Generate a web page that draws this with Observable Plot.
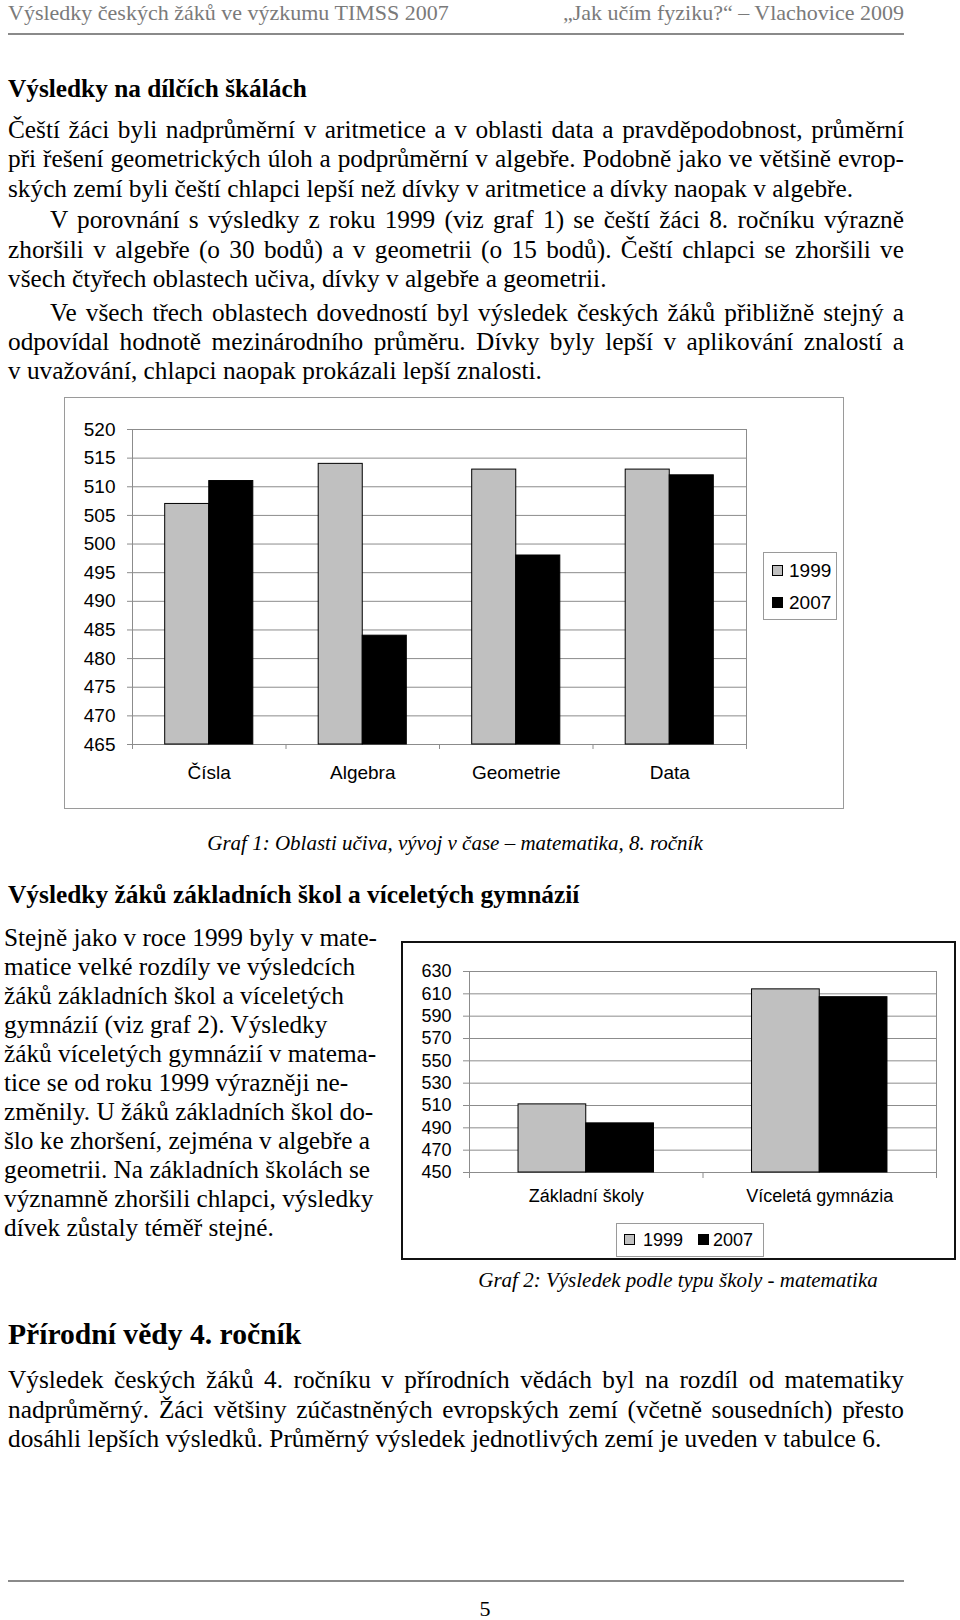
<!DOCTYPE html>
<html><head><meta charset="utf-8">
<script src="https://cdn.jsdelivr.net/npm/d3@7"></script>
<script src="https://cdn.jsdelivr.net/npm/@observablehq/plot@0.6"></script>
<style>
html,body{margin:0;padding:0;background:#fff;}
body{width:960px;height:1620px;position:relative;overflow:hidden;font-family:"Liberation Serif","Times New Roman",serif;color:#000;}
.t{position:absolute;white-space:nowrap;line-height:1;}
.box{position:absolute;box-sizing:border-box;}
.sans{font-family:"Liberation Sans",Arial,sans-serif;}
</style></head><body>
<script>
// ---------- DATA ----------
const categories1 = ["Čísla", "Algebra", "Geometrie", "Data"];
const values1999_1 = [507, 514, 513, 513];
const values2007_1 = [511, 484, 498, 512];
const yTicks1 = [465, 470, 475, 480, 485, 490, 495, 500, 505, 510, 515, 520];

const categories2 = ["Základní školy", "Víceletá gymnázia"];
const values1999_2 = [511, 614];
const values2007_2 = [494, 607];
const yTicks2 = [450, 470, 490, 510, 530, 550, 570, 590, 610, 630];

const years = ["1999", "2007"];

const headerLeft = "Výsledky českých žáků ve výzkumu TIMSS 2007";
const headerRight = "„Jak učím fyziku?“ – Vlachovice 2009";
const heading1 = "Výsledky na dílčích škálách";
const para1 = [
  "Čeští žáci byli nadprůměrní v aritmetice a v oblasti data a pravděpodobnost, průměrní",
  "při řešení geometrických úloh a podprůměrní v algebře. Podobně jako ve většině evrop-",
  "ských zemí byli čeští chlapci lepší než dívky v aritmetice a dívky naopak v algebře.",
  "V porovnání s výsledky z roku 1999 (viz graf 1) se čeští žáci 8. ročníku výrazně",
  "zhoršili v algebře (o 30 bodů) a v geometrii (o 15 bodů). Čeští chlapci se zhoršili ve",
  "všech čtyřech oblastech učiva, dívky v algebře a geometrii.",
  "Ve všech třech oblastech dovedností byl výsledek českých žáků přibližně stejný a",
  "odpovídal hodnotě mezinárodního průměru. Dívky byly lepší v aplikování znalostí a",
  "v uvažování, chlapci naopak prokázali lepší znalosti."
];
const caption1 = "Graf 1: Oblasti učiva, vývoj v čase – matematika, 8. ročník";
const heading2 = "Výsledky žáků základních škol a víceletých gymnázií";
const para2 = [
  "Stejně jako v roce 1999 byly v mate-",
  "matice velké rozdíly ve výsledcích",
  "žáků základních škol a víceletých",
  "gymnázií (viz graf 2). Výsledky",
  "žáků víceletých gymnázií v matema-",
  "tice se od roku 1999 výrazněji ne-",
  "změnily. U žáků základních škol do-",
  "šlo ke zhoršení, zejména v algebře a",
  "geometrii. Na základních školách se",
  "významně zhoršili chlapci, výsledky",
  "dívek zůstaly téměř stejné."
];
const caption2 = "Graf 2: Výsledek podle typu školy - matematika";
const heading3 = "Přírodní vědy 4. ročník";
const para3 = [
  "Výsledek českých žáků 4. ročníku v přírodních vědách byl na rozdíl od matematiky",
  "nadprůměrný. Žáci většiny zúčastněných evropských zemí (včetně sousedních) přesto",
  "dosáhli lepších výsledků. Průměrný výsledek jednotlivých zemí je uveden v tabulce 6."
];
const pageNumber = "5";

// ---------- LAYOUT HELPERS ----------
function text(str, x, yc, size, opts = {}) {
  const d = document.createElement("div");
  d.className = "t" + (opts.sans ? " sans" : "");
  d.textContent = str;
  d.style.fontSize = size + "px";
  d.style.top = (yc - size * 0.5) + "px";
  if (opts.bold) d.style.fontWeight = "bold";
  if (opts.italic) d.style.fontStyle = "italic";
  if (opts.color) d.style.color = opts.color;
  document.body.appendChild(d);
  const w = d.getBoundingClientRect().width;
  if (opts.justify) {
    const spaces = (str.match(/ /g) || []).length;
    if (spaces) d.style.wordSpacing = ((opts.justify - w) / spaces) + "px";
    d.style.left = x + "px";
  } else if (opts.anchor === "end") {
    d.style.left = (x - w) + "px";
  } else if (opts.anchor === "middle") {
    d.style.left = (x - w / 2) + "px";
  } else {
    d.style.left = x + "px";
  }
  return d;
}
function box(x, y, w, h, style) {
  const d = document.createElement("div");
  d.className = "box";
  Object.assign(d.style, {left: x + "px", top: y + "px", width: w + "px", height: h + "px"}, style);
  document.body.appendChild(d);
  return d;
}

// ---------- PAGE TEXT ----------
const BODY = 25.3;
const LEFT = 8, RIGHT = 904;
text(headerLeft, LEFT, 13, 22, {color: "#7a7a7a"});
text(headerRight, RIGHT, 13, 22, {color: "#7a7a7a", anchor: "end"});
box(LEFT, 33, RIGHT - LEFT, 2, {background: "#8a8a8a"});

text(heading1, LEFT, 89, 25.3, {bold: true});
const p1y = [130, 159, 189, 220, 250, 279, 313, 342, 371];
const p1indent = [0, 0, 0, 42, 0, 0, 42, 0, 0];
const p1just = [true, true, false, true, true, false, true, true, false];
para1.forEach((s, i) => {
  const x = LEFT + p1indent[i];
  text(s, x, p1y[i], BODY, p1just[i] ? {justify: RIGHT - x} : {});
});

// chart 1 frame
box(64, 397, 780, 412, {border: "1px solid #9a9a9a"});
text(caption1, 455, 843, 21, {italic: true, anchor: "middle"});

text(heading2, LEFT, 895, 25.4, {bold: true});
const p2y = [938, 967, 996, 1025, 1054, 1083, 1112, 1141, 1170, 1199, 1228];
para2.forEach((s, i) => text(s, 4, p2y[i], BODY));

text(caption2, 678, 1280, 21, {italic: true, anchor: "middle"});

text(heading3, LEFT, 1335, 29.6, {bold: true});
const p3y = [1380, 1410, 1439];
para3.forEach((s, i) => text(s, LEFT, p3y[i], BODY, i < 2 ? {justify: RIGHT - LEFT} : {}));

box(LEFT, 1580, RIGHT - LEFT, 2, {background: "#8a8a8a"});
text(pageNumber, 485, 1609, 22, {anchor: "middle"});

// ---------- CHARTS ----------
const GRID = "#8c8c8c";
const FILL1999 = "#c0c0c0", FILL2007 = "#000000";

function barChart({categories, v1999, v2007, ticks, barW, width, height, margins, fontSize, tickSize, labelPad}) {
  const d1999 = categories.map((c, i) => ({i, v: v1999[i]}));
  const d2007 = categories.map((c, i) => ({i, v: v2007[i]}));
  const base = ticks[0];
  const bounds = d3.range(categories.length + 1).map(i => i - 0.5);
  return Plot.plot({
    width, height,
    marginLeft: margins[0], marginRight: margins[1], marginTop: margins[2], marginBottom: margins[3],
    x: {domain: [-0.5, categories.length - 0.5]},
    y: {domain: [ticks[0], ticks[ticks.length - 1]]},
    style: {background: "transparent", fontFamily: "'Liberation Sans', Arial, sans-serif", fontSize: fontSize + "px", color: "#000", overflow: "visible"},
    marks: [
      Plot.ruleY(ticks, {stroke: GRID, strokeWidth: 1}),
      Plot.frame({stroke: GRID, strokeWidth: 1}),
      Plot.rectY(d1999, {x1: d => d.i - barW, x2: d => d.i, y1: base, y2: "v", fill: FILL1999, stroke: "#000", strokeWidth: 1}),
      Plot.rectY(d2007, {x1: d => d.i, x2: d => d.i + barW, y1: base, y2: "v", fill: FILL2007, stroke: "#000", strokeWidth: 1}),
      Plot.axisY({ticks, tickSize, tickPadding: 12, stroke: GRID, fontSize, label: null, tickFormat: d => String(d)}),
      Plot.axisX({ticks: bounds, tickSize, tickFormat: () => "", stroke: GRID, label: null}),
      Plot.axisX({ticks: categories.map((c, i) => i), tickSize: 0, tickPadding: labelPad, tickFormat: i => categories[i], fontSize, label: null})
    ]
  });
}

const c1 = barChart({
  categories: categories1, v1999: values1999_1, v2007: values2007_1, ticks: yTicks1,
  barW: 0.287, width: 780, height: 412, margins: [68, 98, 32, 65], fontSize: 19, tickSize: 5, labelPad: 21
});
const h1 = box(64, 397, 780, 412, {}); h1.appendChild(c1);

// chart 1 legend
box(763, 552, 74, 68, {border: "1px solid #9a9a9a", background: "#fff"});
box(772, 565, 11, 11, {background: FILL1999, border: "1px solid #000"});
text(years[0], 789, 570, 19, {sans: true});
box(772, 597, 11, 11, {background: FILL2007, border: "1px solid #000"});
text(years[1], 789, 602, 19, {sans: true});

// chart 2
const c2 = barChart({
  categories: categories2, v1999: values1999_2, v2007: values2007_2, ticks: yTicks2,
  barW: 0.29, width: 555, height: 319, margins: [68, 20, 30, 88], fontSize: 18, tickSize: 6, labelPad: 17
});
const h2 = box(401, 941, 555, 319, {}); h2.appendChild(c2);
box(401, 941, 555, 319, {border: "2.5px solid #111"});

// chart 2 legend
box(616, 1223, 148, 34, {border: "1px solid #9a9a9a", background: "#fff"});
box(624, 1234, 11, 11, {background: FILL1999, border: "1px solid #000"});
text(years[0], 643, 1240, 18, {sans: true});
box(698, 1234, 11, 11, {background: FILL2007, border: "1px solid #000"});
text(years[1], 713, 1240, 18, {sans: true});
</script>
</body></html>
